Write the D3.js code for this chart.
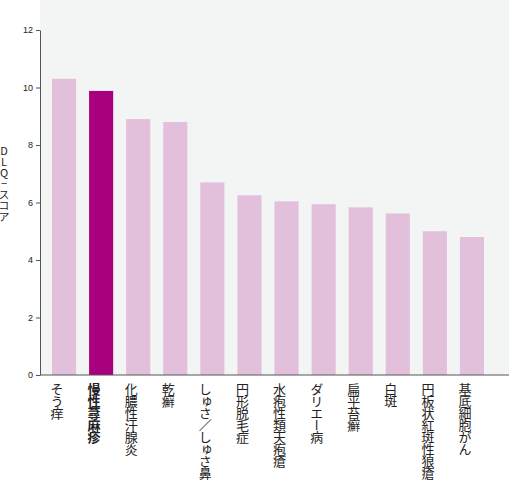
<!DOCTYPE html><html><head><meta charset="utf-8"><script src="https://d3js.org/d3.v7.min.js"></script>
<style>body{margin:0;background:#fff}</style></head><body><svg id="c" width="509" height="494"></svg>
<script>
const categories=["そう痒","慢性蕁麻疹","化膿性汗腺炎","乾癬","しゅさ／しゅさ鼻","円形脱毛症","水疱性類天疱瘡","ダリエー病","扁平苔癬","白斑","円板状紅斑性狼瘡","基底細胞がん"];
const values=[10.3,9.88,8.9,8.8,6.7,6.25,6.04,5.94,5.83,5.62,5.0,4.8];
const yTicks=[0,2,4,6,8,10,12];
const highlight="慢性蕁麻疹";
const svg=d3.select("#c");
const x=d3.scaleBand().domain(categories).range([45,503]).padding(0.35);
const y=d3.scaleLinear().domain([0,12]).range([375,30]);
const off=-6;
svg.append("rect").attr("x",40).attr("y",0).attr("width",469).attr("height",375).attr("fill","#f3f5f5");
svg.selectAll(".b").data(categories).join("rect").attr("x",d=>x(d)+off).attr("width",x.bandwidth())
 .attr("y",(d,i)=>y(values[i])).attr("height",(d,i)=>375-y(values[i]))
 .attr("fill",d=>d===highlight?"#a8007f":"#e2bfdb");
const ax=svg.append("g").attr("transform","translate(40,0)").call(d3.axisLeft(y).tickValues(yTicks).tickSize(4).tickSizeOuter(0));
ax.select(".domain").attr("stroke","#555");
ax.selectAll("line").attr("stroke","#555");
ax.selectAll("text").attr("font-family","Liberation Sans,Arial").attr("font-size",9).attr("fill","#222");
svg.append("line").attr("x1",40).attr("x2",509).attr("y1",375).attr("y2",375).attr("stroke","#555");
svg.selectAll(".l").data(categories).join("text").attr("x",d=>x(d)+x.bandwidth()/2+off-7).attr("y",383)
 .style("writing-mode","vertical-rl").style("text-orientation","upright").attr("font-family","Noto Sans CJK JP").attr("font-size",13)
 .attr("letter-spacing",-1)
 .attr("font-weight",d=>d===highlight?"bold":"normal").attr("fill","#222").text(d=>d);
svg.append("text").attr("x",4).attr("y",145).style("writing-mode","vertical-rl").style("text-orientation","upright").attr("font-family","Noto Sans CJK JP")
 .attr("font-size",11).attr("fill","#222").text("DLQ−スコア");
</script></body></html>
